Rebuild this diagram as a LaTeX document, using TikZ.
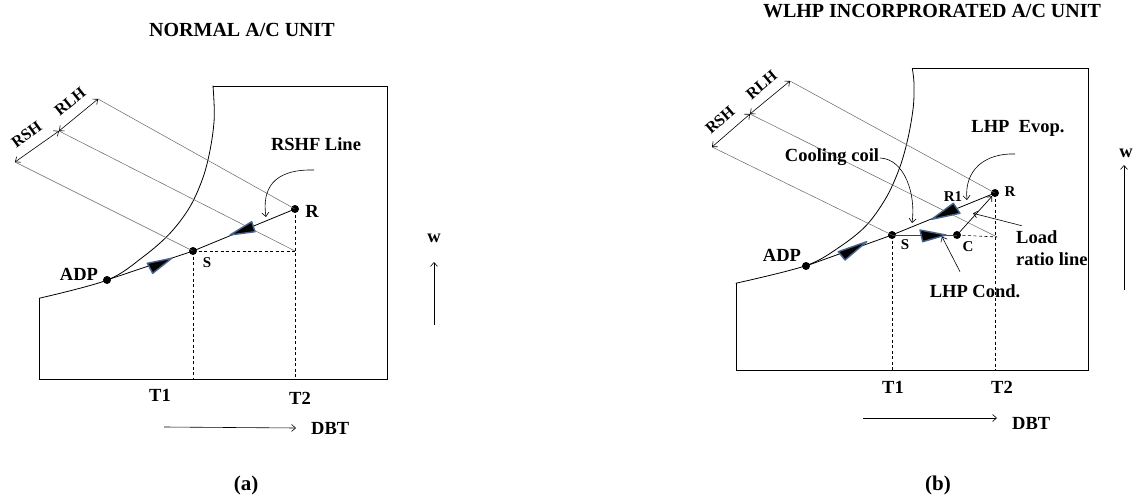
\documentclass[tikz,border=0pt]{standalone}
\usepackage{fontspec}
\setmainfont{Liberation Serif}
\usetikzlibrary{arrows.meta}
\definecolor{bluegray}{RGB}{70,100,140}
\begin{document}
\begin{tikzpicture}[x=1pt,y=-1pt,
  lbl/.style={font=\fontsize{18.5}{22}\selectfont\bfseries, inner sep=0pt},
  rot/.style={font=\fontsize{16}{19}\selectfont\bfseries, inner sep=0pt},
  sml/.style={font=\fontsize{15}{17}\selectfont\bfseries, inner sep=0pt},
  ttl/.style={font=\fontsize{20}{23}\selectfont\bfseries, inner sep=0pt, anchor=base},
  capt/.style={font=\fontsize{21}{24}\selectfont\bfseries, inner sep=0pt},
  dot/.style={circle, fill=black, inner sep=0pt, minimum size=8pt},
  frm/.style={line width=0.8pt},
  proc/.style={line width=0.8pt},
  guide/.style={draw=black!60, line width=0.5pt},
  dashln/.style={line width=0.6pt, dash pattern=on 3pt off 2.5pt},
  tri/.style={fill=black, draw=bluegray, line width=1.4pt, line join=round},
  arr/.style={-{Straight Barb[length=4pt,width=7pt]}, line width=0.6pt},
  darr/.style={{Straight Barb[length=4pt,width=7pt]}-{Straight Barb[length=4pt,width=7pt]}, line width=0.6pt},
]
\fill[white] (0,0) rectangle (1136,503);
\useasboundingbox (0,0) rectangle (1136,503);

% ================= LEFT PANEL =================
\node[ttl] (titleA) at (242,37) {NORMAL A/C UNIT};
\draw[frm] (213,86) -- (387,86) -- (387,379) -- (39,379) -- (39,298);
\draw[frm] plot[smooth, tension=0.55] coordinates {(39,298.3) (107.3,280) (143.3,256.7) (170,233.3) (190,206.7) (203.3,176.7) (210.7,146.7) (214.3,116.7) (213,85.7)};
\coordinate (botA) at (0,379);
\node[dot] (adpA) at (107,280) {};
\node[dot] (sA) at (193,251) {};
\node[dot] (rA) at (295,209) {};
\coordinate (cornA) at (rA |- sA);
\coordinate (d1A) at (15,162);
\coordinate (d2A) at (59,131);
\coordinate (d3A) at (98,99);
\draw[guide] (sA.center) -- (d1A);
\draw[guide] (cornA) -- (d2A);
\draw[guide] (rA.center) -- (d3A);
\draw[darr] (d1A) -- (d2A);
\draw[darr] (d2A) -- (d3A);
\draw[dashln] (sA.center) -- (sA.center |- botA);
\draw[dashln] (rA.center) -- (rA.center |- botA);
\draw[dashln] (sA.center) -- (cornA);
\draw[proc] (adpA.center) -- (sA.center) -- (rA.center);
\draw[tri] (147.3,263.3) -- (171.7,258.3) -- (152.7,273.3) -- cycle;
\draw[tri] (230,235) -- (251.7,221.7) -- (255,231.7) -- cycle;
\node[rot, rotate=36] (rshA) at (26.5,134.5) {RSH};
\node[rot, rotate=39] (rlhA) at (70,101.5) {RLH};
\node[lbl] (rshfA) at (316,144) {RSHF Line};
\coordinate (rshfAs) at (314,170);
\coordinate (rshfAe) at (266,217);
\draw[arr] (rshfAs) .. controls (272,169) and (262,190) .. (rshfAe);
\node[lbl] (rAl) at (312,211) {R};
\node[lbl] (adpAl) at (79,274) {ADP};
\node[sml] (sAl) at (207,263) {S};
\node[lbl] (t1A) at (160,395) {T1};
\node[lbl] (t2A) at (300,398) {T2};
\coordinate (dbtAs) at (164,427);
\node[lbl, anchor=west] (dbtA) at (311,428) {DBT};
\draw[arr] (dbtAs) -- (dbtA.west -| 296,0);
\node[lbl] (wA) at (434,238) {w};
\coordinate (wAs) at (434,325);
\draw[arr] (wAs) -- (434,262);
\node[capt] (capA) at (246,485) {(a)};

% ================= RIGHT PANEL =================
\node[ttl] (titleB) at (932,18) {WLHP INCORPRORATED A/C UNIT};
\draw[frm] (912,68) -- (1088,68) -- (1088,370) -- (736,370) -- (736,283);
\draw[frm] plot[smooth, tension=0.55] coordinates {(735.7,283.3) (805.7,265.7) (840,246.7) (866.7,225) (886.7,196.7) (900,166.7) (908.3,136.7) (913.3,106.7) (914,83.3) (912.3,68.3)};
\coordinate (botB) at (0,370);
\node[dot] (adpB) at (806,266) {};
\node[dot] (sB) at (892,235) {};
\node[dot] (rB) at (995,193) {};
\node[dot] (cB) at (957,235) {};
\coordinate (cornB) at (997,237);
\coordinate (d1B) at (712,147);
\coordinate (d2B) at (750,114);
\coordinate (d3B) at (790,81);
\draw[guide] (sB.center) -- (d1B);
\draw[guide] (cornB) -- (d2B);
\draw[guide] (rB.center) -- (d3B);
\draw[darr] (d1B) -- (d2B);
\draw[darr] (d2B) -- (d3B);
\draw[dashln] (sB.center) -- (sB.center |- botB);
\draw[dashln] (rB.center) -- (rB.center |- botB);
\draw[dashln] (cB.center) -- (cornB);
\draw[proc] (adpB.center) -- (sB.center) -- (rB.center);
\draw[proc, draw=black!75] (sB.center) -- (cB.center);
\draw[arr, line width=0.7pt] (cB) -- (rB);
\draw[tri] (838.3,251.7) -- (866.7,241.7) -- (845,260) -- cycle;
\draw[tri] (931.7,219.3) -- (953.3,203.3) -- (960,213.3) -- cycle;
\draw[tri] (920,230) -- (946,235) -- (922.7,241.7) -- cycle;
\node[rot, rotate=41] (rshB) at (720,120) {RSH};
\node[rot, rotate=40] (rlhB) at (761.5,85) {RLH};
\node[lbl] (evopB) at (1018,128) {LHP\ \ Evop.};
\coordinate (evopBs) at (1015,154);
\coordinate (evopBe) at (967,200);
\draw[arr] (evopBs) .. controls (985,153) and (964,170) .. (evopBe);
\node[lbl] (coilB) at (832,157) {Cooling coil};
\coordinate (coilBs) at (880,158);
\coordinate (coilBe) at (912,223);
\draw[arr] (coilBs) .. controls (905,159) and (916,195) .. (coilBe);
\node[sml] (r1B) at (953,197) {R1};
\node[sml] (rBl) at (1010,192) {R};
\node[sml] (sBl) at (905,245) {S};
\node[sml] (cBl) at (968,247) {C};
\node[lbl] (adpBl) at (782,255) {ADP};
\node[lbl, anchor=west, align=left] (loadB) at (1016,248.5) {Load\\ratio line};
\coordinate (loadBs) at (1021.7,225.7);
\coordinate (loadBe) at (973,213.3);
\draw[arr] (loadBs) -- (loadBe);
\node[lbl] (condB) at (975,291) {LHP Cond.};
\coordinate (condBs) at (960,271.7);
\coordinate (condBe) at (942,236.7);
\draw[arr] (condBs) -- (condBe);
\node[lbl] (t1B) at (893,387) {T1};
\node[lbl] (t2B) at (1002,387) {T2};
\coordinate (dbtBs) at (863,418);
\node[lbl, anchor=west] (dbtB) at (1012,423) {DBT};
\draw[arr] (dbtBs) -- (997,418);
\node[lbl] (wB) at (1126,153) {w};
\coordinate (wBs) at (1124,290);
\draw[arr] (wBs) -- (1124,165);
\node[capt] (capB) at (938,485) {(b)};
\end{tikzpicture}
\end{document}
